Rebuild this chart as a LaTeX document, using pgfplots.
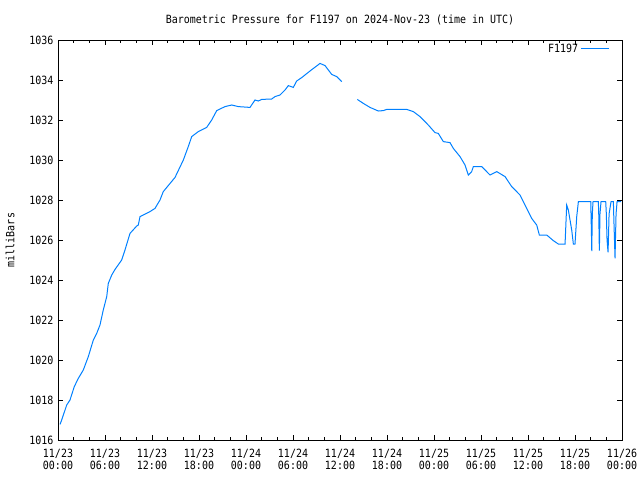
\documentclass[border=0pt]{standalone}
\usepackage{fontspec}
\setmainfont[FakeStretch=0.88]{DejaVu Sans Mono}
\usepackage{pgfplots}
\pgfplotsset{compat=1.18}
\definecolor{lineblue}{RGB}{0,128,255}
\begin{document}
\begin{tikzpicture}
\begin{axis}[
 scale only axis, width=423pt, height=300pt,
 xmin=0, xmax=72, ymin=1016, ymax=1036,
 xtick={0,6,...,72},
 xticklabels={{11/23\\00:00},{11/23\\06:00},{11/23\\12:00},{11/23\\18:00},{11/24\\00:00},{11/24\\06:00},{11/24\\12:00},{11/24\\18:00},{11/25\\00:00},{11/25\\06:00},{11/25\\12:00},{11/25\\18:00},{11/26\\00:00}},
 minor x tick num=2,
 ytick={1016,1018,...,1036},
 /pgf/number format/assume math mode=true,
 /pgf/number format/1000 sep={},
 x tick label style={align=center, yshift=-3pt},
 tick align=inside,
 major tick length=3.75pt, minor tick length=1.9pt,
 every tick/.style={black, line width=0.75pt},
 axis line style={line width=0.75pt},
 font=\fontsize{8.5}{9}\selectfont,
 title={Barometric Pressure for F1197 on 2024-Nov-23 (time in UTC)},
 title style={at={(axis description cs:0.5,1.03)}, anchor=center},
 ylabel={milliBars},
 ylabel style={at={(axis description cs:-0.0851,0.5)}, anchor=center},
 unbounded coords=jump,
 legend style={at={(axis description cs:1,1)}, anchor=north east, draw=none, fill=none, inner sep=0pt, xshift=-9pt, yshift=-0.5pt, font=\fontsize{8.5}{9}\selectfont},
 legend plot pos=right,
 legend cell align=right,
 legend image code/.code={\draw[#1] (0pt,0pt) -- (21pt,0pt);},
]
\coordinate (bl) at (rel axis cs:0,0);
\coordinate (tr) at (rel axis cs:1,1);
\addplot[lineblue, line width=0.75pt] coordinates {
(0.26,1016.78) (0.47,1017.0) (1.11,1017.75) (1.53,1018.0) (2.08,1018.67) (2.59,1019.08)
(3.23,1019.5) (3.87,1020.17) (4.51,1021.0) (4.94,1021.33) (5.36,1021.75) (5.78,1022.5)
(6.22,1023.17) (6.42,1023.83) (6.86,1024.25) (7.28,1024.53) (8.13,1025.0) (8.55,1025.5)
(9.19,1026.33) (10.05,1026.7) (10.25,1026.75) (10.47,1027.17) (10.89,1027.25) (11.74,1027.42)
(12.38,1027.58) (13.02,1028.0) (13.44,1028.42) (14.94,1029.13) (16.0,1030.0) (16.63,1030.67)
(17.07,1031.17) (17.91,1031.42) (18.98,1031.63) (19.62,1032.0) (20.26,1032.47) (21.32,1032.67)
(22.18,1032.75) (23.02,1032.67) (24.51,1032.63) (25.15,1033.0) (25.57,1032.95) (26.01,1033.03)
(27.28,1033.05) (27.70,1033.17) (28.34,1033.25) (28.98,1033.5) (29.40,1033.72) (30.04,1033.63)
(30.47,1033.95) (31.11,1034.12) (32.17,1034.45) (33.45,1034.83) (34.09,1034.72) (34.94,1034.28)
(35.58,1034.17) (36.22,1033.92)
(37.2,nan)
(38.21,1033.03) (38.98,1032.83) (39.83,1032.63) (40.89,1032.45) (41.53,1032.47) (41.96,1032.53)
(44.52,1032.53) (45.36,1032.42) (46.21,1032.17) (47.27,1031.75) (48.13,1031.37) (48.55,1031.33)
(49.19,1030.92) (50.04,1030.87) (50.47,1030.58) (51.32,1030.17) (51.96,1029.75) (52.38,1029.25)
(52.81,1029.42) (53.02,1029.67) (54.09,1029.67) (55.15,1029.25) (56.01,1029.42) (57.07,1029.17)
(57.92,1028.67) (58.98,1028.25) (59.62,1027.75) (60.47,1027.08) (61.11,1026.75) (61.45,1026.25)
(62.39,1026.25) (63.23,1025.97) (63.87,1025.8) (64.73,1025.8) (64.94,1027.75) (65.15,1027.5)
(65.58,1026.5) (65.79,1025.8) (66.0,1025.8) (66.22,1027.17) (66.43,1027.92) (68.01,1027.92)
(68.09,1026.5) (68.14,1025.45) (68.21,1027.3) (68.30,1027.92) (68.98,1027.92) (69.03,1027.3)
(69.11,1025.47) (69.19,1027.3) (69.32,1027.92) (69.92,1027.92) (70.0,1027.3) (70.09,1026.0)
(70.22,1025.38) (70.35,1027.3) (70.6,1027.92) (70.9,1027.92) (70.94,1027.3) (71.11,1025.08)
(71.24,1027.3) (71.37,1027.92) (71.88,1027.92)
};
\addlegendentry{F1197}
\end{axis}
\pgfresetboundingbox
\path ([shift={(-43.5pt,-30pt)}]bl) rectangle ([shift={(13.5pt,30pt)}]tr);
\end{tikzpicture}
\end{document}
